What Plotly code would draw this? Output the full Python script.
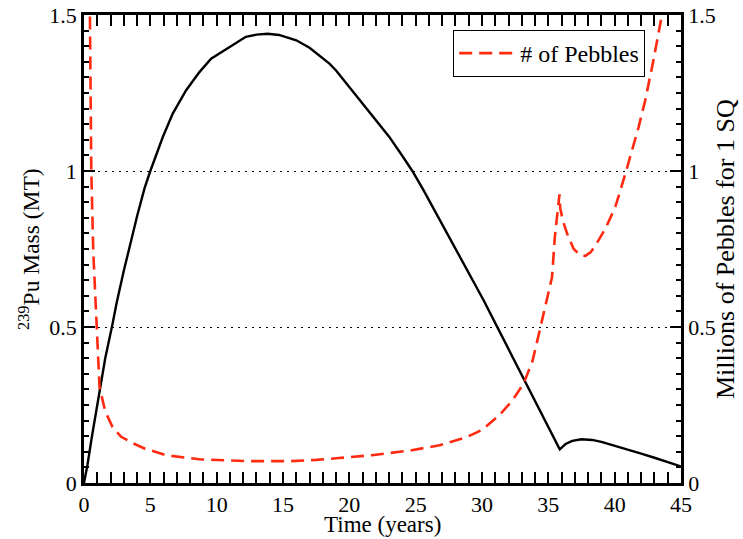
import plotly.graph_objects as go

# 239Pu inventory (metric tons) versus time
pu_time = [0, 0.27, 0.6, 1.17, 1.6, 2.15, 2.45, 3.0, 3.5, 4.0, 4.56, 5.0, 5.94, 6.69,
           7.7, 8.7, 9.58, 10.2, 10.96, 12.2, 13.0, 13.84, 14.7, 16.0, 17.0,
           18.0, 18.5, 19.0, 19.7, 20.5, 21.3, 22.2, 23.0, 24.0, 24.75, 25.6, 26.0,
           27.0, 28.0, 29.0, 30.13, 31.27, 32.0, 33.0, 34.0, 35.0, 35.86, 36.3, 36.8,
           37.5, 38.3, 39.0, 40.0, 41.0, 42.0, 43.0, 44.0, 45.0]
pu_mass = [0.0, 0.06, 0.15, 0.30, 0.40, 0.51, 0.575, 0.68, 0.77, 0.855, 0.944, 1.0, 1.109, 1.184,
           1.259, 1.317, 1.36, 1.376, 1.397, 1.43, 1.437, 1.440, 1.436, 1.419, 1.395,
           1.362, 1.344, 1.322, 1.285, 1.245, 1.2, 1.152, 1.11, 1.048, 1.0, 0.938, 0.907,
           0.83, 0.752, 0.674, 0.585, 0.49, 0.43, 0.347, 0.264, 0.18, 0.108, 0.125, 0.135,
           0.14, 0.138, 0.132, 0.12, 0.107, 0.094, 0.081, 0.068, 0.053]

# Pebbles (millions) needed to accumulate one significant quantity
peb_time = [0.3, 0.42, 0.55, 0.7, 0.93, 1.17, 1.6, 2.15, 2.8, 3.66, 4.6, 6.2, 8.7, 10.5,
            12.5, 15.5, 17.5, 19.2, 21.7, 24.7, 26.8, 28.8, 30.0, 31.3, 32.3, 33.15, 33.8,
            34.3, 34.9, 35.28, 35.49, 35.7, 35.84, 35.9, 36.1, 36.41, 36.9, 37.4, 37.8,
            38.2, 38.7, 39.3, 40.05, 40.8, 41.3, 41.8, 42.3, 42.9, 43.56, 44.2]
peb_count = [2.2, 1.5, 1.0, 0.74, 0.5, 0.307, 0.23, 0.179, 0.148, 0.128, 0.11, 0.089, 0.076, 0.073,
             0.070, 0.070, 0.074, 0.080, 0.089, 0.105, 0.121, 0.146, 0.17, 0.217, 0.265, 0.32, 0.39,
             0.48, 0.585, 0.66, 0.789, 0.87, 0.925, 0.88, 0.84, 0.80, 0.751, 0.73, 0.728,
             0.74, 0.772, 0.815, 0.885, 0.99, 1.066, 1.14, 1.226, 1.35, 1.5, 1.65]

x_ticks = [0, 5, 10, 15, 20, 25, 30, 35, 40, 45]
y_ticks = [0, 0.5, 1, 1.5]
y_labels = ["0", "0.5", "1", "1.5"]

x_title = "Time (years)"
y_title = "<sup>239</sup>Pu Mass (MT)"
y2_title = "Millions of Pebbles for 1 SQ"

FONT = "Times New Roman, Liberation Serif, serif"
RED = "#ff2a10"

fig = go.Figure()
fig.add_trace(go.Scatter(
    x=pu_time, y=pu_mass, mode="lines", showlegend=False,
    line=dict(color="black", width=2.4), yaxis="y"))
fig.add_trace(go.Scatter(
    x=peb_time, y=peb_count, mode="lines", name="# of Pebbles",
    line=dict(color=RED, width=2.6, dash="13px,7px"), yaxis="y2"))

axis_common = dict(
    showline=True, linecolor="black", linewidth=2.6,
    ticks="inside", ticklen=11, tickwidth=2, tickcolor="black",
    tickfont=dict(family=FONT, size=22, color="black"),
    zeroline=False, automargin=False,
)
minor_x = dict(ticks="inside", ticklen=5, tickwidth=2, tickcolor="black", dtick=1,
               tick0=0, showgrid=False)
minor_y = dict(ticks="inside", ticklen=5, tickwidth=2, tickcolor="black", dtick=0.05,
               tick0=0, showgrid=False)

fig.update_layout(
    width=743, height=539,
    margin=dict(l=84, r=62, t=15, b=56),
    paper_bgcolor="white", plot_bgcolor="white",
    font=dict(family=FONT, size=22, color="black"),
    xaxis=dict(range=[0, 45], tickvals=x_ticks, mirror="allticks", showgrid=False,
               minor=minor_x, **axis_common),
    yaxis=dict(range=[0, 1.5], tickvals=y_ticks, ticktext=y_labels,
               showgrid=True, gridcolor="black", gridwidth=1.2, griddash="2px,5px",
               minor=minor_y, **axis_common),
    yaxis2=dict(range=[0, 1.5], tickvals=y_ticks, ticktext=y_labels, overlaying="y",
                side="right", showgrid=False, minor=minor_y, **axis_common),
    legend=dict(
        x=0.94, y=0.968, xanchor="right", yanchor="top",
        bordercolor="black", borderwidth=1, bgcolor="white",
        font=dict(family=FONT, size=24, color="black"),
        itemwidth=56,
    ),
)

# axis titles
fig.add_annotation(text=x_title, xref="paper", yref="paper", x=0.5, y=-0.057,
                   xanchor="center", yanchor="top", showarrow=False,
                   font=dict(family=FONT, size=23, color="black"))
fig.add_annotation(text=y_title, xref="paper", yref="paper", x=-0.092, y=0.5,
                   xanchor="center", yanchor="middle", textangle=-90, showarrow=False,
                   font=dict(family=FONT, size=23.5, color="black"))
fig.add_annotation(text=y2_title, xref="paper", yref="paper", x=1.0737, y=0.5,
                   xanchor="center", yanchor="middle", textangle=-90, showarrow=False,
                   font=dict(family=FONT, size=26, color="black"))

fig.write_html("out.html")
